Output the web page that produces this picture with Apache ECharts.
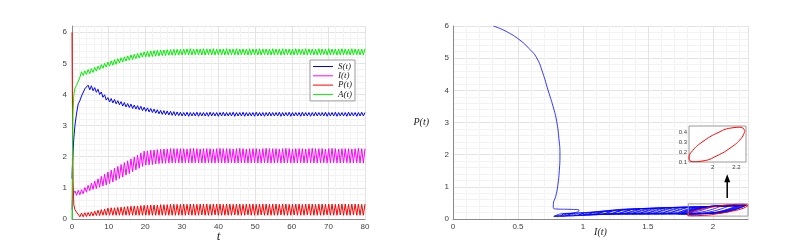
<!DOCTYPE html>
<html><head><meta charset="utf-8">
<script src="https://cdn.jsdelivr.net/npm/echarts@6/dist/echarts.min.js"></script>
<style>html,body{margin:0;padding:0;background:#fff}#c{width:793px;height:241px}</style>
</head><body><div id="c"></div>
<script>
// ---- time series (left panel) ----
const times = [0,0.05,0.15,0.3,0.5,
0.8,1.25,1.7,2.15,2.6,3.05,3.5,3.95,4.4,4.85,5.3,5.75,6.2,6.65,7.1,7.55,8,8.45,8.9,9.35,
9.8,10.25,10.7,11.15,11.6,12.05,12.5,12.95,13.4,13.85,14.3,14.75,15.2,15.65,16.1,16.55,17,17.45,17.9,18.35,
18.8,19.25,19.7,20.15,20.6,21.05,21.5,21.95,22.4,22.85,23.3,23.75,24.2,24.65,25.1,25.55,26,26.45,26.9,27.35,
27.8,28.25,28.7,29.15,29.6,30.05,30.5,30.95,31.4,31.85,32.3,32.75,33.2,33.65,34.1,34.55,35,35.45,35.9,36.35,
36.8,37.25,37.7,38.15,38.6,39.05,39.5,39.95,40.4,40.85,41.3,41.75,42.2,42.65,43.1,43.55,44,44.45,44.9,45.35,
45.8,46.25,46.7,47.15,47.6,48.05,48.5,48.95,49.4,49.85,50.3,50.75,51.2,51.65,52.1,52.55,53,53.45,53.9,54.35,
54.8,55.25,55.7,56.15,56.6,57.05,57.5,57.95,58.4,58.85,59.3,59.75,60.2,60.65,61.1,61.55,62,62.45,62.9,63.35,
63.8,64.25,64.7,65.15,65.6,66.05,66.5,66.95,67.4,67.85,68.3,68.75,69.2,69.65,70.1,70.55,71,71.45,71.9,72.35,
72.8,73.25,73.7,74.15,74.6,75.05,75.5,75.95,76.4,76.85,77.3,77.75,78.2,78.65,79.1,79.55,80];

const sVals = [1.3,1.5,1.8,2.2,2.6,
3.0,3.4,3.7,3.8,3.95,3.98,4.18,4.12,
4.30,4.15,4.28,4.12,4.22,4.07,4.17,4.00,4.08,3.91,3.99,3.82,
3.90,3.76,3.87,3.73,3.84,3.70,3.80,3.67,3.77,3.63,3.74,3.60,
3.71,3.58,3.69,3.55,3.66,3.53,3.64,3.51,3.62,3.48,3.59,
3.46,3.57,3.44,3.55,3.42,3.53,3.40,3.51,3.38,3.49,3.36,
3.48,3.35,3.47,3.34,3.46,3.33,3.45,3.32,3.44,3.32,3.43,
3.31,3.42,3.31,3.43,3.30,3.42,3.31,3.42,3.31,3.43,3.30,3.42,3.31,3.42,
3.31,3.42,3.30,3.43,3.31,3.42,3.31,3.42,3.30,3.42,3.31,3.43,3.31,3.42,
3.31,3.42,3.31,3.43,3.30,3.42,3.31,3.42,3.31,3.43,3.30,3.42,3.31,3.42,
3.31,3.42,3.30,3.43,3.31,3.42,3.31,3.42,3.30,3.42,3.31,3.43,3.31,3.42,
3.31,3.42,3.31,3.43,3.30,3.42,3.31,3.42,3.31,3.43,3.30,3.42,3.31,3.42,
3.31,3.42,3.30,3.43,3.31,3.42,3.31,3.42,3.30,3.42,3.31,3.43,3.31,3.42,
3.31,3.42,3.31,3.43,3.30,3.42,3.31,3.42,3.31,3.43,3.30,3.42,3.31,3.42,
3.31,3.42,3.30,3.43,3.31,3.42,3.31,3.42,3.30,3.42,3.31,3.43,3.31,3.42];

const iVals = [0.3,0.5,0.7,0.8,0.78,
0.90,0.76,0.92,0.78,
0.94,0.81,1.01,0.86,1.08,0.91,1.15,
0.95,1.22,0.98,1.29,1.02,1.37,1.06,1.44,1.09,1.51,
1.14,1.57,1.19,1.63,1.24,1.69,1.30,1.75,1.35,1.81,1.41,
1.87,1.46,1.93,1.52,1.99,1.58,2.05,1.63,2.12,1.69,2.18,
1.73,2.19,1.74,2.21,1.75,2.22,1.77,2.23,1.78,2.24,1.79,
2.25,1.79,2.25,1.80,2.26,1.80,2.26,1.80,2.26,1.80,2.26,
1.80,2.26,1.81,2.25,1.80,2.26,1.80,2.27,1.81,2.26,1.80,2.25,1.80,2.26,
1.80,2.26,1.81,2.26,1.80,2.25,1.80,2.26,1.81,2.27,1.80,2.26,1.80,2.26,
1.80,2.26,1.81,2.25,1.80,2.26,1.80,2.27,1.81,2.26,1.80,2.25,1.80,2.26,
1.80,2.26,1.81,2.26,1.80,2.25,1.80,2.26,1.81,2.27,1.80,2.26,1.80,2.26,
1.80,2.26,1.81,2.25,1.80,2.26,1.80,2.27,1.81,2.26,1.80,2.25,1.80,2.26,
1.80,2.26,1.81,2.26,1.80,2.25,1.80,2.26,1.81,2.27,1.80,2.26,1.80,2.26,
1.80,2.26,1.81,2.25,1.80,2.26,1.80,2.27,1.81,2.26,1.80,2.25,1.80,2.26,
1.80,2.26,1.81,2.26,1.80,2.25,1.80,2.26,1.81,2.27,1.80,2.26,1.80,2.26];

const pVals = [6.0,4.8,3.0,1.2,0.45,
0.30,0.22,0.19,0.07,0.19,0.07,0.20,0.08,0.21,0.09,
0.23,0.10,0.25,0.11,0.28,0.11,0.30,0.12,0.32,0.12,0.35,
0.12,0.36,0.12,0.36,0.12,0.37,0.12,0.38,0.12,0.39,0.12,
0.40,0.12,0.41,0.12,0.42,0.12,0.42,0.12,0.43,0.12,0.44,
0.12,0.44,0.12,0.45,0.12,0.45,0.12,0.45,0.12,0.46,0.12,
0.46,0.12,0.46,0.12,0.47,0.12,0.47,0.12,0.47,0.12,0.47,
0.12,0.48,0.12,0.47,0.13,0.48,0.12,0.48,0.12,0.47,0.12,0.48,0.13,0.48,
0.12,0.48,0.12,0.47,0.12,0.48,0.13,0.48,0.12,0.48,0.12,0.47,0.12,0.48,
0.12,0.48,0.12,0.47,0.13,0.48,0.12,0.48,0.12,0.47,0.12,0.48,0.13,0.48,
0.12,0.48,0.12,0.47,0.12,0.48,0.13,0.48,0.12,0.48,0.12,0.47,0.12,0.48,
0.12,0.48,0.12,0.47,0.13,0.48,0.12,0.48,0.12,0.47,0.12,0.48,0.13,0.48,
0.12,0.48,0.12,0.47,0.12,0.48,0.13,0.48,0.12,0.48,0.12,0.47,0.12,0.48,
0.12,0.48,0.12,0.47,0.13,0.48,0.12,0.48,0.12,0.47,0.12,0.48,0.13,0.48,
0.12,0.48,0.12,0.47,0.12,0.48,0.13,0.48,0.12,0.48,0.12,0.47,0.12,0.48];

const aVals = [0,1.0,2.5,3.5,4.0,
4.2,4.3,4.33,4.55,
4.73,4.61,4.76,4.64,4.80,4.67,4.83,4.71,4.87,4.75,4.91,4.80,4.96,4.84,5.00,4.88,
5.04,4.91,5.08,4.94,5.12,4.97,5.15,5.01,5.18,5.04,5.21,5.07,5.24,5.10,5.27,5.12,5.29,5.15,5.32,5.17,5.34,5.20,
5.37,5.21,5.39,5.21,5.40,5.22,5.41,5.23,5.42,5.24,5.43,5.25,5.43,5.25,5.44,5.26,5.44,5.26,5.45,5.26,5.45,5.27,5.45,
5.27,5.46,5.28,5.46,5.27,5.47,5.27,5.46,5.28,5.46,5.27,5.46,5.27,5.47,
5.27,5.46,5.28,5.46,5.27,5.47,5.27,5.46,5.28,5.46,5.27,5.46,5.27,5.47,
5.27,5.46,5.28,5.46,5.27,5.47,5.27,5.46,5.28,5.46,5.27,5.46,5.27,5.47,
5.27,5.46,5.28,5.46,5.27,5.47,5.27,5.46,5.28,5.46,5.27,5.46,5.27,5.47,
5.27,5.46,5.28,5.46,5.27,5.47,5.27,5.46,5.28,5.46,5.27,5.46,5.27,5.47,
5.27,5.46,5.28,5.46,5.27,5.47,5.27,5.46,5.28,5.46,5.27,5.46,5.27,5.47,
5.27,5.46,5.28,5.46,5.27,5.47,5.27,5.46,5.28,5.46,5.27,5.46,5.27,5.47,
5.27,5.46,5.28,5.46,5.27,5.47,5.27,5.46,5.28,5.46,5.27,5.46,5.27,5.47];

const seriesNames = ['S(t)','I(t)','P(t)','A(t)'];
const seriesColors = ['#0000ff','#ff00ff','#ff0000','#00ee00'];

// ---- phase portrait (right panel) ----
const transientI = [0.31,0.41,0.515,0.585,0.644,0.69,0.731,0.77,0.798,0.815,0.823,0.818,0.805,0.79,0.772,0.772,0.80,0.90,0.97,0.96];
const transientP = [6.0,5.83,5.56,5.3,5.01,4.55,4.01,3.5,3.03,2.5,2.02,1.5,1.0,0.7,0.45,0.35,0.31,0.30,0.28,0.22];
const spiralI = [
0.775,0.845,0.915,0.845, 0.78,0.86,0.94,0.86, 0.83,0.92,1.01,0.92, 0.88,0.98,1.08,0.98,
0.93,1.04,1.15,1.04, 0.966,1.094,1.222,1.094, 1.002,1.148,1.294,1.148, 1.038,1.202,1.366,1.202,
1.074,1.256,1.438,1.256, 1.11,1.31,1.51,1.31, 1.163,1.366,1.569,1.366, 1.217,1.423,1.629,1.423,
1.271,1.479,1.687,1.479, 1.325,1.536,1.747,1.536, 1.378,1.592,1.806,1.592, 1.434,1.65,1.866,1.65,
1.491,1.71,1.929,1.71, 1.548,1.77,1.992,1.77, 1.605,1.83,2.055,1.83, 1.663,1.89,2.117,1.89,
1.72,1.95,2.18,1.95, 1.733,1.963,2.193,1.963, 1.745,1.975,2.205,1.975, 1.758,1.988,2.218,1.988,
1.771,2.001,2.231,2.001, 1.784,2.014,2.244,2.014, 1.795,2.025,2.255,2.025, 1.80,2.03,2.26,2.03];
const spiralP = [
0.084,0.091,0.176,0.169, 0.084,0.091,0.176,0.169, 0.092,0.099,0.188,0.181, 0.100,0.108,0.200,0.192,
0.115,0.123,0.215,0.207, 0.122,0.131,0.236,0.227, 0.129,0.140,0.257,0.246, 0.137,0.148,0.277,0.266,
0.144,0.156,0.298,0.286, 0.151,0.164,0.319,0.306, 0.152,0.166,0.328,0.314, 0.152,0.167,0.336,0.321,
0.152,0.168,0.346,0.330, 0.153,0.169,0.353,0.337, 0.153,0.170,0.363,0.346, 0.153,0.171,0.371,0.353,
0.154,0.172,0.376,0.358, 0.155,0.173,0.383,0.365, 0.156,0.174,0.388,0.370, 0.157,0.176,0.395,0.376,
0.157,0.177,0.403,0.383, 0.158,0.178,0.408,0.388, 0.159,0.179,0.411,0.391, 0.158,0.179,0.416,0.395,
0.159,0.180,0.419,0.398, 0.158,0.179,0.422,0.401, 0.158,0.179,0.426,0.405, 0.157,0.179,0.433,0.411];
const cycleI = [2.27,2.239,2.153,2.035,1.918,1.831,1.80,1.831,1.918,2.035,2.153,2.239,2.27];
const cycleP = [0.418,0.457,0.449,0.396,0.311,0.218,0.142,0.103,0.111,0.164,0.249,0.342,0.418];
const boxI = [1.81,2.27,2.27,1.81,1.81];
const boxP = [0.09,0.09,0.47,0.47,0.09];
const arrowI = [2.11,2.11];
const arrowP = [0.65,1.27];

// ---- build ----
const zip = (xs, ys) => xs.map((x, i) => [x, ys[i]]);
const seriesVals = [sVals, iVals, pVals, aVals];
const tickFont = {fontFamily:'Liberation Sans, Arial, sans-serif', fontSize:8, color:'#404040'};
const nameFont = (sz) => ({fontFamily:'Liberation Serif, DejaVu Serif, serif', fontStyle:'italic', fontSize:sz, color:'#222'});
const gridLine = {show:true, lineStyle:{color:'#e4e4e4', width:1}};
const minorLine = {show:true, lineStyle:{color:'#f3f3f3', width:1}};
const axLine = {show:true, onZero:false, lineStyle:{color:'#8a8a8a', width:1}};

function mainAxis(gi, min, max, interval, extra) {
  return Object.assign({
    gridIndex: gi, type:'value', min, max, interval,
    axisLine: axLine, axisTick:{show:false}, nameMoveOverlap:false,
    axisLabel: Object.assign({}, tickFont, {margin:4}),
    splitLine: gridLine, minorTick:{show:false, splitNumber:5}, minorSplitLine: minorLine
  }, extra || {});
}

const series = [];
seriesVals.forEach((vals, i) => {
  series.push({
    name: seriesNames[i], type:'line', xAxisIndex:0, yAxisIndex:0,
    data: zip(times, vals), symbol:'none', showSymbol:false,
    lineStyle:{color:seriesColors[i], width:1}, itemStyle:{color:seriesColors[i]},
    animation:false, silent:true
  });
});
const phaseData = zip(transientI.concat(spiralI), transientP.concat(spiralP));
series.push({type:'line', xAxisIndex:1, yAxisIndex:1, data:phaseData, symbol:'none', smooth:0.5,
  lineStyle:{color:'#0000ff', width:0.8}, animation:false, silent:true});
series.push({type:'line', xAxisIndex:1, yAxisIndex:1, data:zip(boxI, boxP), symbol:'none',
  lineStyle:{color:'#999999', width:1}, animation:false, silent:true, z:3});
series.push({type:'line', xAxisIndex:1, yAxisIndex:1, data:zip(cycleI, cycleP), symbol:'none', smooth:0.5,
  lineStyle:{color:'#ff0000', width:1}, animation:false, silent:true, z:4});
series.push({type:'line', xAxisIndex:1, yAxisIndex:1,
  data:[{value:[arrowI[0], arrowP[0]], symbol:'none'}, {value:[arrowI[1], arrowP[1]]}],
  symbol:'triangle', symbolSize:[6,8], showSymbol:true, itemStyle:{color:'#000'},
  lineStyle:{color:'#000', width:1.5}, animation:false, silent:true, z:4});
series.push({type:'line', xAxisIndex:2, yAxisIndex:2, data:zip(cycleI, cycleP), symbol:'none', smooth:0.5,
  lineStyle:{color:'#ff0000', width:1}, animation:false, silent:true, z:10});

const option = {
  animation:false,
  grid:[
    {left:72, top:26, width:293, height:193, outerBoundsMode:'none', containLabel:false},
    {left:453, top:26, width:295, height:193, outerBoundsMode:'none', containLabel:false},
    {left:689, top:126, width:57, height:36, outerBoundsMode:'none', containLabel:false,
      show:true, backgroundColor:'#ffffff', borderColor:'#9a9a9a', borderWidth:1, z:8}
  ],
  legend:{
    data: seriesNames, orient:'vertical', left:310, top:60, padding:[2,3,2,3],
    icon:'rect', itemWidth:20, itemHeight:1, itemGap:0.3,
    backgroundColor:'#ffffff', borderColor:'#9a9a9a', borderWidth:1,
    textStyle: Object.assign(nameFont(9), {lineHeight:8}), selectedMode:false
  },
  xAxis:[
    mainAxis(0, 0, 80, 10, {name:'t', nameLocation:'middle', nameGap:11, nameTextStyle:nameFont(13)}),
    mainAxis(1, 0, 2.27, 0.5, {axisLabel:Object.assign({}, tickFont, {margin:4, showMaxLabel:false}),
      name:'I(t)', nameLocation:'middle', nameGap:8, nameTextStyle:nameFont(10)}),
    {gridIndex:2, type:'value', min:1.8, max:2.28, interval:0.2, z:8,
      axisLine:{show:false}, axisTick:{show:false}, splitLine:{show:false},
      axisLabel:Object.assign({}, tickFont, {fontSize:6, margin:2, showMinLabel:false, showMaxLabel:false})}
  ],
  yAxis:[
    mainAxis(0, 0, 6.2, 1, {axisLabel:Object.assign({}, tickFont, {margin:5, showMaxLabel:false})}),
    mainAxis(1, 0, 6, 1, {axisLabel:Object.assign({}, tickFont, {margin:4}),
      name:'P(t)', nameLocation:'middle', nameRotate:0, nameGap:24, nameTextStyle:nameFont(10)}),
    {gridIndex:2, type:'value', min:0.1, max:0.47, interval:0.1, z:8,
      axisLine:{show:false}, axisTick:{show:false}, splitLine:{show:false},
      axisLabel:Object.assign({}, tickFont, {fontSize:6, margin:2, showMaxLabel:false})}
  ],
  series
};
const chart = echarts.init(document.getElementById('c'), null, {renderer:'canvas'});
chart.setOption(option);
</script>
</body></html>
